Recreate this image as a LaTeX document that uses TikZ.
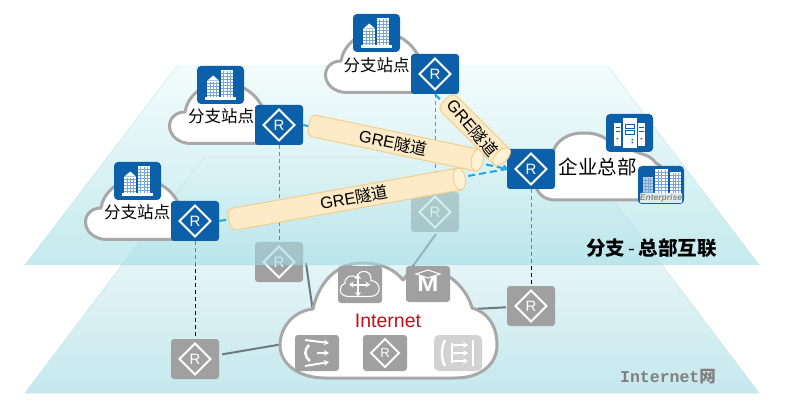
\documentclass[tikz,border=0pt]{standalone}
\usepackage{fontspec}
\setmainfont{Liberation Sans}
\setmonofont{Liberation Mono}
\newfontfamily\cjk{Noto Sans CJK SC}
\usetikzlibrary{calc,arrows.meta}
\pgfdeclarelayer{low}
\pgfdeclarelayer{plane}
\pgfsetlayers{low,plane,main}
\definecolor{hwblue}{HTML}{0C5FA9}
\definecolor{hwgray}{HTML}{A0A0A0}
\definecolor{hwlight}{HTML}{D2D2D2}
\definecolor{cloudline}{HTML}{A8A8A8}
\definecolor{linkgray}{HTML}{6F7A80}
\definecolor{dashblue}{HTML}{1BA7DF}
\definecolor{tunfill}{HTML}{FDEBC8}
\definecolor{tunend}{HTML}{FEF1D6}
\definecolor{tunline}{HTML}{F6CE8C}
\tikzset{
  rbox/.style={rectangle,rounded corners=3,minimum width=48,minimum height=40,inner sep=0,text=white,font=\fontsize{15}{15}\selectfont},
  sbox/.style={rectangle,rounded corners=3,minimum width=44,minimum height=36,inner sep=0,text=white,font=\fontsize{13}{13}\selectfont},
  ibox/.style={rectangle,rounded corners=4,minimum width=47,minimum height=38,inner sep=0,fill=hwblue},
  diam/.style={white,line width=2,line join=miter},
  cloudshape/.style={draw=cloudline,fill=white,line width=3,line join=round},
  vdash/.style={black,line width=1,dash pattern=on 4 off 3},
  link/.style={linkgray,line width=2},
  tundash/.style={dashblue,line width=2,dash pattern=on 7 off 4},
  tunbody/.style={draw=tunline,fill=tunfill,line width=1},
  tuntext/.style={inner sep=0,text=black,font=\fontsize{16.5}{17}\selectfont},
  site/.style={inner sep=0,text=black,font=\cjk\fontsize{16.5}{17}\selectfont},
  thinw/.style={white,line width=1.1},
  medw/.style={white,line width=2},
}
\newcommand\router[4][rbox]{%
  \node[#1,fill=#4] (#2) at (#3) {R};
  \draw[diam] ([shift={(-15.5,0)}]#2.center) -- ([shift={(0,-15.5)}]#2.center) -- ([shift={(15.5,0)}]#2.center) -- ([shift={(0,15.5)}]#2.center) -- cycle;
}
\newcommand\tower[5][white]{% x0 x1 y0 y1
  \fill[#1] (#2,#4) rectangle (#3,#5);
  \foreach \gx in {1,2,3} {\draw[hwblue!55!white,line width=.4] ({#2+(#3-#2)*\gx/4},#4+1) -- ({#2+(#3-#2)*\gx/4},#5);}
  \pgfmathsetmacro{\ya}{#4+3}
  \pgfmathsetmacro{\yb}{#4+6}
  \foreach \gy in {\ya,\yb,...,#5} {\draw[hwblue!55!white,line width=.4] (#2,\gy) -- (#3,\gy);}
}
\newcommand\buildingicon[2]{%
  \node[ibox] (#1) at (#2) {};
  \begin{scope}[shift={(#1.center)}]
    \fill[white] (-13.3,-4.3) -- (-7.3,-9.5) -- (-1.3,-4.3) -- cycle;
    \tower{-13.3}{-1.3}{-4.3}{11.7}
    \tower{0}{12.7}{-15}{11.7}
    \fill[white] (-15.7,12.2) rectangle (15.3,15);
  \end{scope}
}
\newcommand\branchcloud[1]{%
  \draw[cloudshape,shift={(#1.center)}] (-20,18.5) -- (-88,18.5)
    .. controls (-101,18.5) and (-109.5,10) .. (-109.5,1)
    .. controls (-109.5,-7) and (-103,-13) .. (-94,-13)
    .. controls (-92,-27) and (-78,-42) .. (-58,-42)
    .. controls (-42,-42) and (-28,-36) .. (-19,-22)
    -- (-12,-12) -- (-12,10) -- cycle;
}
\newcommand\tunnel[6]{% name, start, angle, length, text-angle, text pos along
  \begin{scope}[shift={(#2)},rotate=#3]
    \draw[tunbody] (#4,-11) -- (6,-11) .. controls (2,-11) and (1,-9) .. (0,-6) -- (0,5)
      .. controls (1,9) and (3,11) .. (7,11) -- (#4,11) -- cycle;
    \draw[tunbody,fill=tunend] (#4,0) ellipse [x radius=6pt,y radius=11pt];
    \node[tuntext,rotate=#5] (#1) at (#6,0) {GRE{\cjk 隧道}};
  \end{scope}
}
\begin{document}
\begin{tikzpicture}[x=1pt,y=-1pt]
\useasboundingbox (0,0) rectangle (790,406);

\begin{pgfonlayer}{low}
  % lower plane
  \shade[top color=white,bottom color={rgb,255:red,197;green,232;blue,237},draw={rgb,255:red,200;green,232;blue,236},line width=.6]
    (204,157) -- (580,157) -- (759,393) -- (25,393) -- cycle;

  % gray routers
  \router{rga}{195,359}{hwgray}
  \router{rgb}{279,262}{hwgray}
  \router{rgc}{435,212}{hwgray}
  \router{rgd}{531,306}{hwgray}

  \coordinate (ca) at (283,344);
  \coordinate (cb) at (313,312);
  \coordinate (cc) at (400,284);
  \coordinate (cd) at (474,309);
  \coordinate (bs) at (306,263);
  \coordinate (cs) at (436,234);

  \draw[link,shorten <=3] (rga) -- (ca);
  \draw[link] (bs) -- (cb);
  \draw[link] (cs) -- (cc);
  \draw[link,shorten <=1] (rgd) -- (cd);

  % Internet cloud
  \draw[cloudshape] (325,378) -- (455,378)
    .. controls (480,378) and (497,365) .. (497,345)
    .. controls (497,325) and (487,312) .. (472,308)
    .. controls (468,292) and (452,272) .. (430,270)
    .. controls (418,270) and (408,274) .. (403,280)
    .. controls (395,270) and (382,263) .. (362,263)
    .. controls (335,263) and (318,285) .. (313,309)
    .. controls (293,311) and (280,328) .. (280,345)
    .. controls (280,365) and (300,378) .. (325,378) -- cycle;

  \node[inner sep=0,text={rgb,255:red,192;green,16;blue,24},font=\fontsize{19.5}{20}\selectfont] (inet) at (388,321) {Internet};

  % icon: cloud with cross arrows
  \node[sbox,fill=hwgray,minimum height=37] (ica) at (360,284.5) {};
  \begin{scope}[shift={(ica.center)}]
    \draw[thinw] (-11,12) .. controls (-22,12) and (-22,1) .. (-15,-1)
      .. controls (-16,-8) and (-7,-11) .. (-4,-7)
      .. controls (-1,-16) and (12,-15) .. (11,-4)
      .. controls (22,-3) and (22,12) .. (10,12) -- cycle;
    \draw[fill=hwgray,draw=none] (-11,-3) rectangle (11,5);
    \draw[medw,{Stealth[length=4.5,width=6]}-{Stealth[length=4.5,width=6]}] (-11,0) -- (10,0);
    \draw[medw,{Stealth[length=4.5,width=6]}-{Stealth[length=4.5,width=6]}] (-2,-10) -- (-2,12);
  \end{scope}

  % icon: M
  \node[sbox,fill=hwgray,font=\bfseries\fontsize{22}{22}\selectfont] (icm) at (428,284) {\raisebox{-5pt}{\scalebox{1.15}[1]{M}}};
  \draw[thinw] ([shift={(-12,-10)}]icm.center) -- ([shift={(0,-14)}]icm.center) -- ([shift={(12,-10)}]icm.center) -- ([shift={(0,-6)}]icm.center) -- cycle;

  % icon: routing arrows
  \node[sbox,fill=hwgray] (icl) at (317,353) {};
  \begin{scope}[shift={(icl.center)}]
    \draw[medw,-{Stealth[length=5,width=6]}] (-12,-13) -- (12,-10);
    \draw[medw,-{Stealth[length=5,width=6]}] (0,0) -- (12,0);
    \draw[medw,-{Stealth[length=5,width=6]}] (-12,13) -- (12,9);
    \draw[white,line width=2.6] (-8,-8) .. controls (-13,-3) and (-13,3) .. (-7,8);
  \end{scope}

  % small router
  \node[sbox,fill=hwgray] (icr) at (385,353) {R};
  \draw[diam] ([shift={(-14,0)}]icr.center) -- ([shift={(0,-14)}]icr.center) -- ([shift={(14,0)}]icr.center) -- ([shift={(0,14)}]icr.center) -- cycle;

  % light icon
  \node[sbox,fill=hwlight,minimum width=48,rounded corners=5] (ice) at (458,353) {};
  \begin{scope}[shift={(ice.center)}]
    \draw[white,line width=2.4] (-13,-13) .. controls (-17,-5) and (-17,5) .. (-13,13);
    \draw[white,line width=2.4] (15,-13) -- (15,13);
    \draw[medw] (-6,-10) -- (-6,10);
    \foreach \ay in {-8,0,8} {\draw[medw,-{Stealth[length=5,width=6]}] (-6,\ay) -- (10,\ay);}
  \end{scope}

  \node[inner sep=0,text={rgb,255:red,128;green,128;blue,128},font=\ttfamily\bfseries\fontsize{16.5}{17}\selectfont] (inetnet) at (668,377) {Internet{\cjk\bfseries 网}};
\end{pgfonlayer}

% upper-layer routers, clouds and icons
\coordinate (r1p) at (435,74);
\coordinate (r2p) at (279,125);
\coordinate (r3p) at (195,221);
\branchcloud{r1p}
\branchcloud{r2p}
\branchcloud{r3p}

% HQ cloud
\draw[cloudshape] (537,189) .. controls (540,196) and (546,200) .. (556,200) -- (645,200) -- (665,190)
  .. controls (668,178) and (664,167) .. (656,163)
  .. controls (652,158) and (647,155) .. (642,154) -- (610,142)
  .. controls (600,133) and (590,133) .. (582,133)
  .. controls (568,133) and (556,141) .. (553,152) -- (530,170) -- cycle;

\router{ra}{435,74}{hwblue}
\router{rb}{279,125}{hwblue}
\router{rc}{195,221}{hwblue}
\router{rh}{531,169}{hwblue}

\begin{pgfonlayer}{low}
  \draw[vdash] (rc) -- (rga);
  \draw[vdash] (rb) -- (rgb);
  \draw[vdash] (ra) -- (rgc);
  \draw[vdash] (rh) -- (rgd);
\end{pgfonlayer}

\begin{pgfonlayer}{plane}
  \shade[top color={rgb,255:red,235;green,250;blue,250},bottom color={rgb,255:red,158;green,220;blue,226},opacity=.6,draw={rgb,255:red,160;green,220;blue,226}]
    (177,66) -- (608,66) -- (759,265) -- (25,265) -- cycle;
\end{pgfonlayer}

\buildingicon{ia}{376.5,33}
\buildingicon{ib}{220.5,85}
\buildingicon{ic}{137.5,181}

\node[site] (ta) at (376.5,65) {分支站点};
\node[site] (tb) at (221,116.5) {分支站点};
\node[site] (tc) at (137,212.5) {分支站点};
\node[inner sep=0,text=black,font=\cjk\fontsize{19.5}{20}\selectfont] (th) at (597.5,167) {企业总部};

% server icon
\node[ibox] (is) at (629.5,133) {};
\begin{scope}[shift={(is.center)}]
  \fill[white] (-15.5,-10) rectangle (-8.5,13);
  \fill[white] (8.5,-10) rectangle (15.5,13);
  \fill[white] (-6.5,-15) rectangle (7,15);
  \draw[hwblue,line width=.8] (-4,-9) rectangle (4.5,-5);
  \draw[hwblue,line width=.8] (-4,-3) rectangle (4.5,1);
  \draw[hwblue,line width=.8] (-14,-6) -- (-9.5,-6) (-14,-2) -- (-9.5,-2);
  \draw[hwblue,line width=.8] (9.5,-6) -- (14,-6) (9.5,-2) -- (14,-2);
  \fill[hwblue] (2,6) rectangle (3.5,7.5) (2,9) rectangle (3.5,10.5);
  \fill[hwblue] (-13,5) rectangle (-11.5,6.5) (11,5) rectangle (12.5,6.5);
\end{scope}

% enterprise icon
\node[ibox,minimum width=46] (ie) at (661,185) {};
\begin{scope}[shift={(ie.center)}]
  \tower[white!70!hwblue]{-18}{-8}{-8}{8}
  \tower[white]{-6}{7}{-16}{8}
  \tower[white]{9}{20}{-13}{8}
  \fill[white!88!hwblue,rounded corners=1] (-21,8) rectangle (21,18);
  \node[inner sep=0,text={rgb,255:red,132;green,140;blue,120},font=\bfseries\itshape\fontsize{8.5}{9}\selectfont] (ient) at (0,13) {Enterprise};
\end{scope}

% tunnels
\draw[tundash] (rb.east) -- (rh.west);
\draw[tundash] (rc.east) -- (rh.west);
\draw[tundash] (ra.south) -- (rh.west);

\tunnel{gb}{229,220}{10.1}{234}{10.1}{127}
\tunnel{ga}{309,125}{-11.8}{172}{-11.8}{86}
\tunnel{gc}{445,100}{-45}{80}{-50}{39}

\node[inner sep=0,text=black,font=\cjk\bfseries\fontsize{19.5}{20}\selectfont] (lab) at (651.5,248) {分支{\mdseries\,-\,}总部互联};
\end{tikzpicture}
\end{document}
